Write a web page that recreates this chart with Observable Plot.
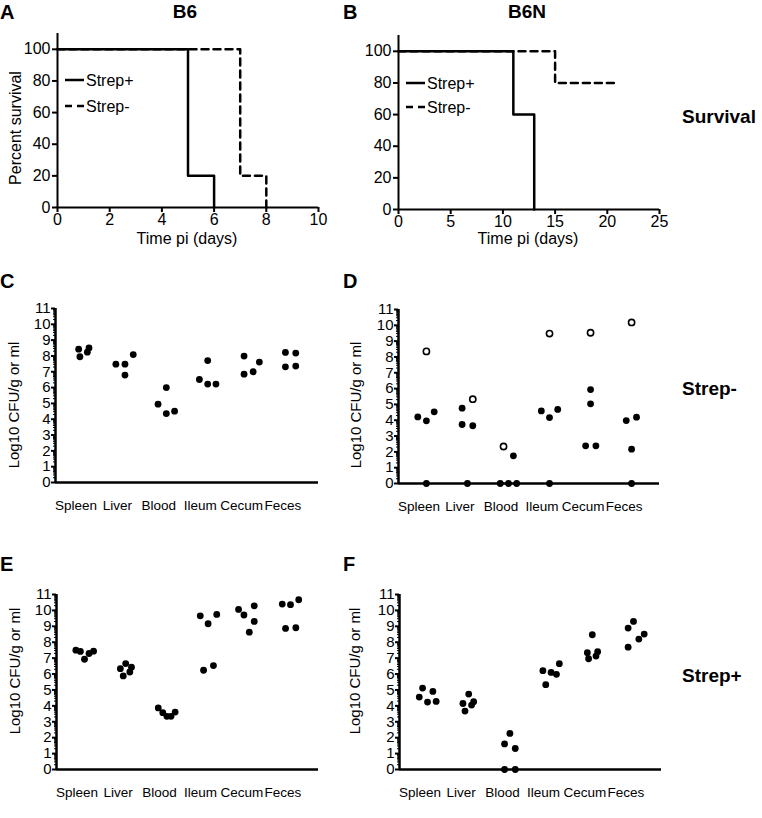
<!DOCTYPE html>
<html><head><meta charset="utf-8">
<script src="https://cdn.jsdelivr.net/npm/d3@7"></script>
<script src="https://cdn.jsdelivr.net/npm/@observablehq/plot@0.6"></script>
<style>
html,body{margin:0;padding:0;background:#fff;}
#fig{position:relative;width:762px;height:818px;overflow:hidden;font-family:"Liberation Sans",Arial,sans-serif;}
#fig svg{position:absolute;overflow:visible;}
</style></head><body><div id="fig"></div>
<script>
// ---------- DATA ----------
const organs = ["Spleen", "Liver", "Blood", "Ileum", "Cecum", "Feces"];

// Survival (Kaplan-Meier steps)
const aPlusDays = [0, 5, 6];    const aPlusSurv = [100, 20, 0];
const aMinusDays = [0, 7, 8];   const aMinusSurv = [100, 20, 0];
const bPlusDays = [0, 11, 13];  const bPlusSurv = [100, 60, 0];
const bMinusDays = [0, 15, 21]; const bMinusSurv = [100, 80, 80];
const aDayTicks = [0, 2, 4, 6, 8, 10];
const bDayTicks = [0, 5, 10, 15, 20, 25];
const survTicks = [0, 20, 40, 60, 80, 100];
const cfuTicks = [0, 1, 2, 3, 4, 5, 6, 7, 8, 9, 10, 11];

// Panel C: B6 Strep-
const cValues = [[8.43, 7.95, 8.24, 8.51], [7.48, 7.48, 6.79, 8.09], [4.95, 6.0, 4.36, 4.51],
                 [6.51, 7.71, 6.22, 6.22], [7.99, 6.85, 7.0, 7.61], [8.22, 7.31, 8.18, 7.36]];
const cJitter = [[-0.12, -0.09, 0.09, 0.13], [-0.22, 0, 0, 0.2], [-0.2, 0, 0, 0.2],
                 [-0.2, 0, 0, 0.2], [-0.12, -0.12, 0.1, 0.25], [-0.12, -0.12, 0.13, 0.13]];
// Panel D: B6N Strep- (filled) and open circles
const dValues = [[4.21, 3.96, 4.53, 0], [4.76, 3.73, 3.65, 0], [0, 0, 0, 1.75],
                 [4.59, 4.17, 4.68, 0], [5.94, 5.04, 2.38, 2.38], [3.98, 4.19, 2.17, 0]];
const dJitter = [[-0.21, 0, 0.19, 0], [-0.13, -0.13, 0.13, 0], [-0.2, 0, 0.2, 0.12],
                 [-0.2, 0, 0.2, 0], [0, 0, -0.12, 0.13], [-0.13, 0.12, 0, 0]];
const dOpenValues = [8.35, 5.33, 2.34, 9.48, 9.53, 10.18];
const dOpenJitter = [0, 0.13, -0.12, 0, 0, 0];
// Panel E: B6 Strep+
const eValues = [[7.5, 7.42, 6.93, 7.29, 7.44], [6.34, 6.66, 5.88, 6.13, 6.43], [3.87, 3.57, 3.34, 3.34, 3.61],
                 [9.66, 9.16, 9.75, 6.24, 6.53], [10.06, 9.71, 10.29, 9.31, 8.63], [10.4, 10.36, 10.67, 8.87, 8.91]];
const eJitter = [[-0.21, -0.1, 0, 0.11, 0.22], [-0.13, 0, -0.06, 0.1, 0.14], [-0.21, -0.1, 0, 0.1, 0.2],
                 [-0.19, 0, 0.21, -0.11, 0.13], [-0.26, -0.13, 0.12, 0.12, 0], [-0.2, 0, 0.2, -0.12, 0.13]];
// Panel F: B6N Strep+
const fValues = [[4.55, 5.12, 4.24, 4.91, 4.28], [4.15, 3.67, 4.74, 4.05, 4.26], [1.61, 2.27, 1.32, 0, 0],
                 [6.21, 5.33, 6.1, 5.98, 6.65], [7.34, 6.96, 8.47, 7.13, 7.4], [8.89, 7.69, 9.31, 8.2, 8.51]];
const fJitter = [[-0.2, -0.12, 0, 0.13, 0.21], [-0.14, -0.09, 0, 0.07, 0.12], [-0.13, 0, 0.13, -0.13, 0.13],
                 [-0.2, -0.13, 0, 0.13, 0.2], [-0.12, -0.09, 0, 0.09, 0.13], [-0.13, -0.13, 0, 0.13, 0.26]];

// ---------- BUILD ----------
const fig = document.getElementById("fig");
const FONT = '"Liberation Sans", Arial, sans-serif';

const ov = d3.create("svg").attr("width", 762).attr("height", 818)
  .style("left", "0px").style("top", "0px").style("pointer-events", "none")
  .attr("font-family", FONT);
fig.appendChild(ov.node());
function txt(x, y, s, size, opts = {}) {
  const t = ov.append("text").attr("font-size", size).attr("fill", "black")
    .attr("text-anchor", opts.anchor || "start").attr("font-weight", opts.bold ? "bold" : null).text(s);
  if (opts.rotate) t.attr("transform", `translate(${x},${y}) rotate(${opts.rotate})`);
  else t.attr("x", x).attr("y", y);
  return t;
}

function place(svg, left, top) {
  svg.style.left = left + "px";
  svg.style.top = top + "px";
  fig.insertBefore(svg, ov.node());
}

function steps(days, surv) { return days.map((d, i) => ({day: d, surv: surv[i]})); }

function survivalPlot({plus, minus, xmax, xticks, m}) {
  return Plot.plot({
    width: 340, height: 270,
    marginLeft: m[0], marginRight: m[1], marginTop: m[2], marginBottom: m[3],
    x: {domain: [0, xmax]},
    y: {domain: [0, 110]},
    style: {fontFamily: FONT, fontSize: "16px", color: "black", background: "transparent", overflow: "visible"},
    marks: [
      Plot.ruleX([0], {strokeWidth: 2}),
      Plot.ruleY([0], {strokeWidth: 2}),
      Plot.axisY({ticks: survTicks, tickSize: 5, tickPadding: 2, strokeWidth: 2, label: null}),
      Plot.axisX({ticks: xticks, tickSize: 5, tickPadding: 1, strokeWidth: 2, label: null}),
      Plot.line(minus, {x: "day", y: "surv", curve: "step-after", strokeWidth: 2.5, strokeDasharray: "7,5"}),
      Plot.line(plus, {x: "day", y: "surv", curve: "step-after", strokeWidth: 2.5})
    ]
  });
}

const XD = [-0.68, 5.68];
const minorTicks = d3.range(0, 11).flatMap(i => d3.range(2, 10).map(k => i + Math.log10(k)));

function dots(values, jitter) {
  return values.flatMap((arr, ci) => arr.map((v, j) => ({x: ci + jitter[ci][j], v})));
}

function cfuPanel({filled, open, m, h, left, top}) {
  const marks = [
    Plot.ruleX([XD[0]], {strokeWidth: 2.5}),
    Plot.axisY({ticks: minorTicks, tickSize: 2, tickFormat: () => "", strokeWidth: 1, label: null}),
    Plot.axisY({ticks: cfuTicks, tickSize: 4, tickPadding: 1, strokeWidth: 2, label: null, fontSize: 15}),
    Plot.ruleY([0], {strokeWidth: 2.5}),
    Plot.dot(filled, {x: "x", y: "v", r: 3.4, fill: "black"})
  ];
  if (open) marks.push(Plot.dot(open, {x: "x", y: "v", r: 3.1, fill: "white", stroke: "black", strokeWidth: 1.6}));
  const plot = Plot.plot({
    width: 340, height: h,
    marginLeft: m[0], marginRight: m[1], marginTop: m[2], marginBottom: m[3],
    x: {domain: XD, axis: null},
    y: {domain: [0, 11]},
    style: {fontFamily: FONT, fontSize: "15px", color: "black", background: "transparent", overflow: "visible"},
    marks
  });
  place(plot, left, top);
  // category labels under each group, placed with the plot's own scales
  const sx = plot.scale("x"), sy = plot.scale("y");
  organs.forEach((name, i) => {
    txt(left + sx.apply(i) - 7, top + sy.apply(0) + 28, name, 13.5, {anchor: "middle"});
  });
}

place(survivalPlot({plus: steps(aPlusDays, aPlusSurv), minus: steps(aMinusDays, aMinusSurv), xmax: 10, xticks: aDayTicks, m: [57, 22, 33, 63]}), 0, 0);
place(survivalPlot({plus: steps(bPlusDays, bPlusSurv), minus: steps(bMinusDays, bMinusSurv), xmax: 25, xticks: bDayTicks, m: [58, 21, 35, 61]}), 340, 0);

cfuPanel({filled: dots(cValues, cJitter), m: [55, 22, 38, 58], h: 270, left: 0, top: 270});
cfuPanel({filled: dots(dValues, dJitter), open: dOpenValues.map((v, i) => ({x: i + dOpenJitter[i], v})), m: [58, 21, 39, 57], h: 270, left: 340, top: 270});
cfuPanel({filled: dots(eValues, eJitter), m: [56, 22, 54, 49], h: 278, left: 0, top: 540});
cfuPanel({filled: dots(fValues, fJitter), m: [59, 19, 54, 49], h: 278, left: 340, top: 540});

// panel letters
txt(0, 19, "A", 20, {bold: true});
txt(343, 19, "B", 20, {bold: true});
txt(0, 288, "C", 20, {bold: true});
txt(343, 288, "D", 20, {bold: true});
txt(0, 571, "E", 20, {bold: true});
txt(343, 571, "F", 20, {bold: true});
// column titles
txt(185, 18, "B6", 19, {bold: true, anchor: "middle"});
txt(527, 18, "B6N", 19, {bold: true, anchor: "middle"});
// row labels
txt(682, 123, "Survival", 19, {bold: true});
txt(682, 395, "Strep-", 19, {bold: true});
txt(682, 682, "Strep+", 19, {bold: true});
// axis titles
txt(21, 128, "Percent survival", 16, {rotate: -90, anchor: "middle"});
txt(187, 244, "Time pi (days)", 16, {anchor: "middle"});
txt(528, 244, "Time pi (days)", 16, {anchor: "middle"});
txt(19, 405, "Log10 CFU/g or ml", 15, {rotate: -90, anchor: "middle"});
txt(361, 405, "Log10 CFU/g or ml", 15, {rotate: -90, anchor: "middle"});
txt(20, 671, "Log10 CFU/g or ml", 15, {rotate: -90, anchor: "middle"});
txt(360, 671, "Log10 CFU/g or ml", 15, {rotate: -90, anchor: "middle"});
// legends
function legend(x, y, label, dashed) {
  ov.append("line").attr("x1", x).attr("x2", x + 19).attr("y1", y).attr("y2", y)
    .attr("stroke", "black").attr("stroke-width", 2.5).attr("stroke-dasharray", dashed ? "7,5" : null);
  txt(x + 21, y + 5.5, label, 16);
}
legend(65, 80, "Strep+", false);
legend(65, 106, "Strep-", true);
legend(406, 83, "Strep+", false);
legend(406, 107, "Strep-", true);
</script></body></html>
